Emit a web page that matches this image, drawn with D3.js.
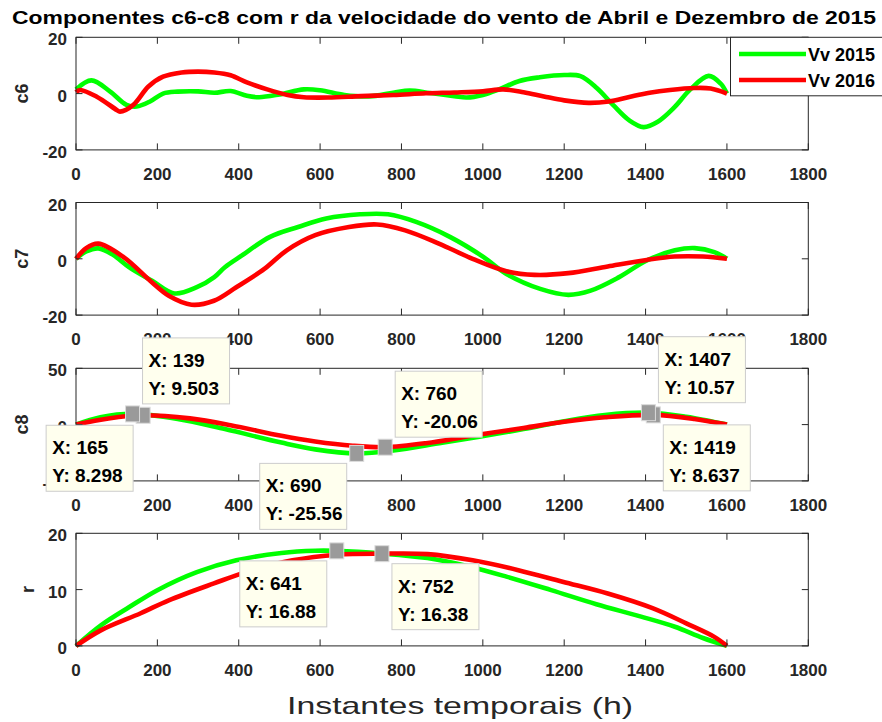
<!DOCTYPE html>
<html>
<head>
<meta charset="utf-8">
<script src="https://cdn.jsdelivr.net/npm/d3@7"></script>
<style>
  body { margin: 0; background: #fff; }
  svg text { font-family: "Liberation Sans", Arial, Helvetica, sans-serif; }
</style>
</head>
<body>
<svg id="fig" width="882" height="722"></svg>
<script>
// ---- data -------------------------------------------------------------
const titleText = "Componentes c6-c8 com r da velocidade do vento de Abril e Dezembro de 2015";
const xLabelText = "Instantes temporais (h)";
const seriesNames = ["Vv 2015", "Vv 2016"];
const seriesColors = ["#00ff00", "#ff0000"];
const xTicks = [0, 200, 400, 600, 800, 1000, 1200, 1400, 1600, 1800];

// c6
const c6T2015 = [0, 38, 84, 124, 149, 182, 214, 250, 300, 340, 380, 420, 450, 500, 560, 600, 660, 720, 780, 820, 870, 930, 960, 1000, 1040, 1090, 1140, 1200, 1240, 1280, 1320, 1360, 1395, 1430, 1470, 1510, 1555, 1585, 1600];
const c6V2015 = [1.5, 4.7, 0.7, -4.0, -4.6, -2.8, 0, 0.7, 0.8, 0.3, 0.9, -0.8, -1.3, -0.3, 1.5, 1.2, -0.5, -1.0, 0.3, 1.1, 0.2, -0.9, -1.4, -0.5, 1.5, 4.5, 5.8, 6.6, 6.2, 2.0, -4.0, -9.5, -11.9, -10.0, -5.0, 1.5, 6.3, 3.5, 0];
const c6T2016 = [0, 10, 51, 100, 108, 141, 178, 214, 260, 300, 340, 380, 420, 470, 520, 560, 620, 700, 780, 860, 930, 1000, 1050, 1100, 1150, 1200, 1260, 1310, 1360, 1410, 1460, 1520, 1560, 1600];
const c6V2016 = [0.5, 1.3, -1.1, -5.8, -6.4, -4.0, 2.5, 6.0, 7.5, 7.8, 7.5, 6.5, 4.0, 1.5, -0.5, -1.3, -1.4, -0.9, -0.5, 0.1, 0.4, 0.8, 1.5, 0.5, -1.0, -2.4, -3.3, -2.8, -1.2, 0.3, 1.3, 2.0, 1.8, 0];

// c7
const c7T2015 = [0, 25, 55, 90, 131, 187, 242, 297, 340, 366, 408, 477, 546, 615, 698, 767, 836, 919, 1002, 1058, 1141, 1210, 1265, 1334, 1403, 1472, 1521, 1569, 1600];
const c7V2015 = [0, 2.6, 3.7, 1.5, -3.0, -7.8, -12.3, -10.1, -6.5, -3.0, 1.2, 7.8, 11.3, 14.3, 15.8, 15.8, 13.1, 7.8, 0.6, -5.4, -10.7, -12.8, -11.3, -6.6, -0.6, 3.0, 3.8, 2.4, 0];
const c7T2016 = [0, 25, 55, 117, 187, 228, 284, 339, 394, 463, 518, 588, 671, 740, 809, 892, 975, 1058, 1127, 1210, 1307, 1403, 1472, 1541, 1600];
const c7V2016 = [0, 3.8, 5.4, 0.6, -8.4, -13.1, -16.3, -14.9, -10.1, -3.6, 3.0, 8.4, 11.3, 12.2, 10.1, 5.4, 0, -4.4, -5.7, -5.1, -2.7, -0.4, 0.8, 0.8, 0];

// c8
const c8T2015 = [0, 60, 139, 250, 366, 505, 588, 690, 780, 900, 988, 1100, 1200, 1300, 1407, 1500, 1560, 1600];
const c8V2015 = [0, 6.5, 9.503, 5.0, -4.0, -16.0, -22.0, -25.56, -23.0, -16.0, -11.0, -4.0, 3.0, 8.5, 10.57, 7.0, 3.0, 0];
const c8T2016 = [0, 80, 165, 280, 380, 505, 588, 680, 760, 860, 988, 1100, 1200, 1300, 1419, 1520, 1600];
const c8V2016 = [0, 5.5, 8.298, 5.5, -0.5, -10.0, -15.0, -18.8, -20.06, -16.5, -9.0, -3.0, 2.5, 6.5, 8.637, 5.0, 0];

// r
const rT2015 = [0, 62, 131, 200, 297, 394, 505, 588, 641, 753, 864, 961, 1058, 1168, 1279, 1389, 1472, 1541, 1600];
const rV2015 = [0, 3.7, 6.9, 9.9, 13.1, 15.2, 16.5, 16.9, 16.88, 16.4, 15.6, 14.2, 12.3, 9.9, 7.4, 5.2, 3.4, 1.4, 0];
const rT2016 = [0, 62, 159, 228, 339, 422, 532, 643, 752, 864, 975, 1085, 1196, 1307, 1417, 1500, 1569, 1600];
const rV2016 = [0, 2.8, 5.8, 8.1, 11.1, 13.2, 15.2, 16.2, 16.38, 16.3, 15.2, 13.5, 11.4, 9.3, 6.7, 4.0, 1.6, 0];

const panelLabels = ["c6", "c7", "c8", "r"];
const panelYDomains = [[-20, 20], [-20, 20], [-50, 50], [0, 20]];
const panelYTicks = [[-20, 0, 20], [-20, 0, 20], [-50, 0, 50], [0, 10, 20]];

// data tips: panel index, series index, point, box side
const tipPanel  = [2, 2, 2, 2, 2, 2, 3, 3];
const tipSeries = [1, 0, 1, 0, 1, 0, 1, 0];
const tipX      = [165, 139, 760, 690, 1419, 1407, 752, 641];
const tipY      = [8.298, 9.503, -20.06, -25.56, 8.637, 10.57, 16.38, 16.88];
const tipYText  = ["8.298", "9.503", "-20.06", "-25.56", "8.637", "10.57", "16.38", "16.88"];
const tipSide   = ["sw", "ne", "ne", "sw", "se", "ne", "se", "sw"];

// ---- layout -------------------------------------------------------------
const W = 882, H = 722;
const axLeft = 76, axRight = 808.3;
const panelTops = [37.3, 202.5, 368.3, 533.3];
const panelH = 112.6;
const axisColor = "#262626";
const tickFont = 17;

const svg = d3.select("#fig");
svg.append("rect").attr("width", W).attr("height", H).attr("fill", "#fff");

const x = d3.scaleLinear().domain([0, 1800]).range([axLeft, axRight]);

const panelData = [
  [[c6T2015, c6V2015], [c6T2016, c6V2016]],
  [[c7T2015, c7V2015], [c7T2016, c7V2016]],
  [[c8T2015, c8V2015], [c8T2016, c8V2016]],
  [[rT2015, rV2015], [rT2016, rV2016]]
];

const yScales = [];

panelData.forEach((series, p) => {
  const top = panelTops[p], bottom = top + panelH;
  const y = d3.scaleLinear().domain(panelYDomains[p]).range([bottom, top]);
  yScales.push(y);
  const g = svg.append("g");

  const line = d3.line()
    .x(d => x(d[0]))
    .y(d => y(d[1]))
    .curve(d3.curveCatmullRom.alpha(0.5));

  series.forEach(([ts, vs], s) => {
    const pts = ts.map((t, i) => [t, vs[i]]);
    g.append("path")
      .attr("d", line(pts))
      .attr("fill", "none")
      .attr("stroke", seriesColors[s])
      .attr("stroke-width", 4.6)
      .attr("stroke-linejoin", "round");
  });

  // box
  g.append("rect")
    .attr("x", axLeft).attr("y", top)
    .attr("width", axRight - axLeft).attr("height", panelH)
    .attr("fill", "none").attr("stroke", axisColor).attr("stroke-width", 1);

  // x ticks (inside, mirrored top and bottom)
  const tl = 6.5;
  xTicks.forEach(t => {
    const xp = x(t);
    g.append("line").attr("x1", xp).attr("x2", xp).attr("y1", bottom).attr("y2", bottom - tl)
      .attr("stroke", axisColor);
    g.append("line").attr("x1", xp).attr("x2", xp).attr("y1", top).attr("y2", top + tl)
      .attr("stroke", axisColor);
    g.append("text").attr("x", xp).attr("y", bottom + 30)
      .attr("text-anchor", "middle").attr("font-size", tickFont).attr("font-weight", "bold")
      .attr("fill", axisColor).text(t);
  });

  // y ticks (inside, mirrored left and right)
  panelYTicks[p].forEach(v => {
    const yp = y(v);
    g.append("line").attr("x1", axLeft).attr("x2", axLeft + tl).attr("y1", yp).attr("y2", yp)
      .attr("stroke", axisColor);
    g.append("line").attr("x1", axRight).attr("x2", axRight - tl).attr("y1", yp).attr("y2", yp)
      .attr("stroke", axisColor);
    g.append("text").attr("x", axLeft - 9).attr("y", yp + 8)
      .attr("text-anchor", "end").attr("font-size", tickFont).attr("font-weight", "bold")
      .attr("fill", axisColor).text(v);
  });

  // y label
  const lx = p === 3 ? 34 : 28;
  g.append("text")
    .attr("transform", `translate(${lx},${(top + bottom) / 2}) rotate(-90)`)
    .attr("text-anchor", "middle").attr("font-size", 18).attr("font-weight", "bold")
    .attr("fill", axisColor).text(panelLabels[p]);
});

// title
svg.append("text")
  .attr("x", 12).attr("y", 23.5)
  .attr("font-size", 18.5).attr("font-weight", "bold").attr("fill", "#000")
  .attr("textLength", 864).attr("lengthAdjust", "spacingAndGlyphs")
  .text(titleText);

// x label
svg.append("text")
  .attr("x", 287).attr("y", 714)
  .attr("font-size", 24).attr("fill", axisColor)
  .attr("textLength", 346).attr("lengthAdjust", "spacingAndGlyphs")
  .text(xLabelText);

// legend
const lg = svg.append("g");
lg.append("rect").attr("x", 730.5).attr("y", 37.3).attr("width", 160).attr("height", 58.5)
  .attr("fill", "#fff").attr("stroke", axisColor).attr("stroke-width", 1);
seriesNames.forEach((name, i) => {
  const ly = 54 + i * 26;
  lg.append("line").attr("x1", 739).attr("x2", 806).attr("y1", ly).attr("y2", ly)
    .attr("stroke", seriesColors[i]).attr("stroke-width", 4.6);
  lg.append("text").attr("x", 808).attr("y", ly + 6.5)
    .attr("font-size", 18).attr("font-weight", "bold").attr("fill", "#000").text(name);
});

// data tips: markers first, then boxes on top
const tipLayer = svg.append("g");
tipX.forEach((tx, i) => {
  const y = yScales[tipPanel[i]];
  tipLayer.append("rect")
    .attr("x", x(tx) - 7).attr("y", y(tipY[i]) - 8)
    .attr("width", 14).attr("height", 16)
    .attr("fill", "#9a9a9a").attr("stroke", "#dcdcdc").attr("stroke-width", 1);
});
tipX.forEach((tx, i) => {
  const y = yScales[tipPanel[i]];
  const mx = x(tx), my = y(tipY[i]);
  const bw = 87, bh = 66, off = 10;
  const side = tipSide[i];
  const bx = side === "sw" ? mx - off - bw : mx + off;
  const by = side === "ne" ? my - off - bh : my + off;
  const b = tipLayer.append("g");
  b.append("rect").attr("x", bx).attr("y", by).attr("width", bw).attr("height", bh)
    .attr("fill", "#ffffee").attr("stroke", "#cccccc").attr("stroke-width", 1);
  b.append("text").attr("x", bx + 6).attr("y", by + 29)
    .attr("font-size", 19).attr("font-weight", "bold").attr("fill", "#000")
    .text("X: " + tx);
  b.append("text").attr("x", bx + 6).attr("y", by + 57)
    .attr("font-size", 19).attr("font-weight", "bold").attr("fill", "#000")
    .text("Y: " + tipYText[i]);
});
</script>
</body>
</html>
